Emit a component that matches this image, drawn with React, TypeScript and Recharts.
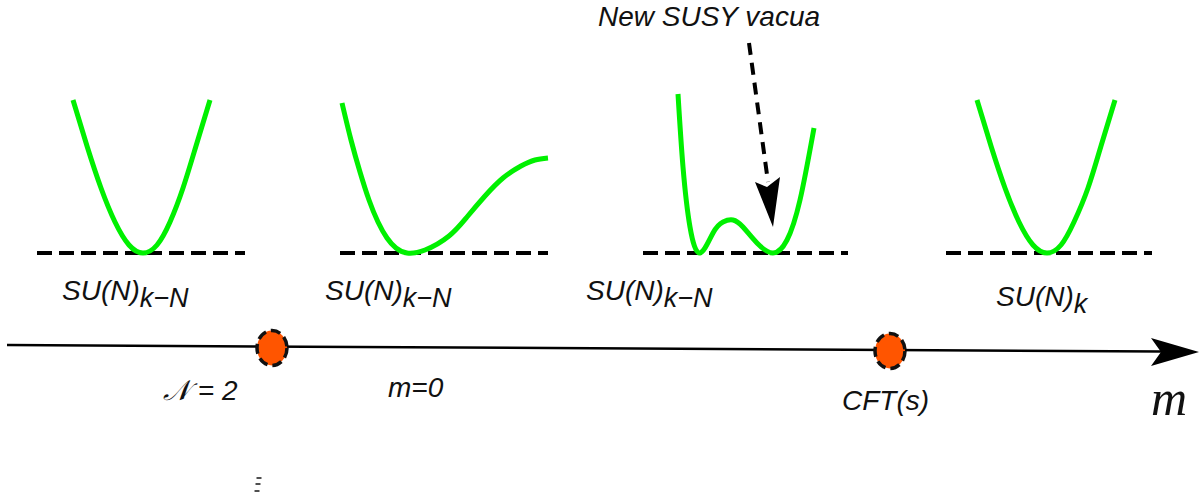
import React from "react";
import { ComposedChart, Line, Scatter, XAxis, YAxis } from "recharts";

// Potential curves (x in page px, y in page px from top)
const wellA = [
  { x: 73, y: 100 }, { x: 87, y: 146 }, { x: 101, y: 188 }, { x: 115, y: 222 }, { x: 129, y: 245 },
  { x: 143, y: 253 }, { x: 157, y: 245 }, { x: 170, y: 222 }, { x: 183, y: 188 }, { x: 196, y: 146 }, { x: 210, y: 100 },
];
const wellB = [
  { x: 342, y: 103 }, { x: 351, y: 140 }, { x: 360, y: 172 }, { x: 369, y: 200 }, { x: 378, y: 222 },
  { x: 387, y: 238 }, { x: 396, y: 248 }, { x: 407, y: 253 }, { x: 425, y: 250 }, { x: 449, y: 236 },
  { x: 467, y: 217 }, { x: 485, y: 196 }, { x: 503, y: 178 }, { x: 521, y: 166 }, { x: 535, y: 160 }, { x: 548, y: 158 },
];
const wellC = [
  { x: 678, y: 94 }, { x: 683, y: 167 }, { x: 690, y: 227 }, { x: 700, y: 253 }, { x: 713, y: 233 },
  { x: 723, y: 222 }, { x: 733, y: 220 }, { x: 743, y: 227 }, { x: 757, y: 243 }, { x: 773, y: 253 },
  { x: 787, y: 240 }, { x: 800, y: 200 }, { x: 814, y: 128 },
];
const wellD = [
  { x: 977, y: 100 }, { x: 991, y: 146 }, { x: 1005, y: 188 }, { x: 1019, y: 222 }, { x: 1033, y: 245 },
  { x: 1047, y: 253 }, { x: 1061, y: 245 }, { x: 1074, y: 222 }, { x: 1088, y: 188 }, { x: 1101, y: 146 }, { x: 1115, y: 100 },
];

// Dashed zero-energy baselines
const baseA = [{ x: 37, y: 253 }, { x: 245, y: 253 }];
const baseB = [{ x: 340, y: 253 }, { x: 548, y: 253 }];
const baseC = [{ x: 643, y: 253 }, { x: 848, y: 253 }];
const baseD = [{ x: 946, y: 253 }, { x: 1152, y: 253 }];

// "New SUSY vacua" pointer
const pointer = [{ x: 749, y: 43 }, { x: 768, y: 182 }];
const pointerTip = [{ x: 773, y: 227 }];

// m axis
const axisLine = [{ x: 7, y: 345 }, { x: 1162, y: 351.5 }];
const axisTip = [{ x: 1199, y: 352 }];

// Special points on the axis
const specialPoints = [{ x: 272, y: 348 }, { x: 890, y: 351 }];

// Texts
const potentialLabels = [
  { x: 62, y: 300, main: "SU(N)", sub: "k\u2212N" },
  { x: 325, y: 300, main: "SU(N)", sub: "k\u2212N" },
  { x: 586, y: 300, main: "SU(N)", sub: "k\u2212N" },
  { x: 996, y: 306, main: "SU(N)", sub: "k" },
];
const axisLabels = [
  { x: 163, y: 400, text: "\uD835\uDCA9 = 2" },
  { x: 388, y: 397, text: "m=0" },
  { x: 842, y: 410, text: "CFT(s)" },
];
const titleLabel = [{ x: 598, y: 26, text: "New SUSY vacua" }];
const axisName = [{ x: 1151, y: 415, text: "m" }];
const stray = [{ x: 259, y: 478 }, { x: 258, y: 484 }, { x: 257, y: 491 }];

const GREEN = "#00f000";
const SANS = "'Liberation Sans', Arial, Helvetica, sans-serif";

const SuLabel = (p: any) => (
  <text x={p.cx} y={p.cy} fontFamily={SANS} fontStyle="italic" fontSize={28} fill="#111">
    {p.payload.main}
    <tspan dy={7} fontSize={27}>{p.payload.sub}</tspan>
  </text>
);
const PlainLabel = (p: any) => (
  <text x={p.cx} y={p.cy} fontFamily={SANS} fontStyle="italic" fontSize={28} fill="#111">
    {p.payload.text}
  </text>
);
const SerifLabel = (p: any) => (
  <text x={p.cx} y={p.cy} fontFamily="'Liberation Serif', 'Times New Roman', serif" fontStyle="italic" fontSize={50} fill="#111">
    {p.payload.text}
  </text>
);
const Dot = (p: any) => (
  <ellipse cx={p.cx} cy={p.cy} rx={15} ry={17.5} fill="#ff5500" stroke="#111" strokeWidth={3.5} strokeDasharray="10 5" />
);
const RightHead = (p: any) => (
  <polygon
    points={`${p.cx},${p.cy} ${p.cx - 48},${p.cy - 14} ${p.cx - 38},${p.cy} ${p.cx - 48},${p.cy + 14}`}
    fill="#000"
  />
);
const DownHead = (p: any) => (
  <polygon
    points={`${p.cx},${p.cy} ${p.cx - 18},${p.cy - 45} ${p.cx - 6},${p.cy - 40} ${p.cx + 7},${p.cy - 50}`}
    fill="#000"
  />
);
const Tick = (p: any) => (
  <line x1={p.cx - 2.5} y1={p.cy} x2={p.cx + 2.5} y2={p.cy} stroke="#222" strokeWidth={1.6} />
);

const curve = (data: any[], key: string) => (
  <Line key={key} data={data} dataKey="y" type="natural" stroke={GREEN} strokeWidth={5} dot={false} activeDot={false} isAnimationActive={false} />
);
const dashed = (data: any[], key: string) => (
  <Line key={key} data={data} dataKey="y" type="linear" stroke="#000" strokeWidth={4} strokeDasharray="15 7" dot={false} activeDot={false} isAnimationActive={false} />
);

export default function App() {
  return (
    <div style={{ position: "fixed", left: 0, top: 0, width: 1199, height: 497, background: "#fff" }}>
      <ComposedChart width={1199} height={497} margin={{ top: 0, right: 0, bottom: 0, left: 0 }}>
        <XAxis dataKey="x" type="number" domain={[0, 1199]} hide allowDataOverflow />
        <YAxis type="number" domain={[0, 497]} reversed hide allowDataOverflow />
        {dashed(baseA, "ba")}
        {dashed(baseB, "bb")}
        {dashed(baseC, "bc")}
        {dashed(baseD, "bd")}
        {curve(wellA, "wa")}
        {curve(wellB, "wb")}
        {curve(wellC, "wc")}
        {curve(wellD, "wd")}
        <Line data={pointer} dataKey="y" type="linear" stroke="#000" strokeWidth={4} strokeDasharray="12 8" dot={false} activeDot={false} isAnimationActive={false} />
        <Scatter data={pointerTip} dataKey="y" shape={DownHead} isAnimationActive={false} />
        <Line data={axisLine} dataKey="y" type="linear" stroke="#000" strokeWidth={2.5} dot={false} activeDot={false} isAnimationActive={false} />
        <Scatter data={axisTip} dataKey="y" shape={RightHead} isAnimationActive={false} />
        <Scatter data={specialPoints} dataKey="y" shape={Dot} isAnimationActive={false} />
        <Scatter data={potentialLabels} dataKey="y" shape={SuLabel} isAnimationActive={false} />
        <Scatter data={axisLabels} dataKey="y" shape={PlainLabel} isAnimationActive={false} />
        <Scatter data={titleLabel} dataKey="y" shape={PlainLabel} isAnimationActive={false} />
        <Scatter data={axisName} dataKey="y" shape={SerifLabel} isAnimationActive={false} />
        <Scatter data={stray} dataKey="y" shape={Tick} isAnimationActive={false} />
      </ComposedChart>
    </div>
  );
}
